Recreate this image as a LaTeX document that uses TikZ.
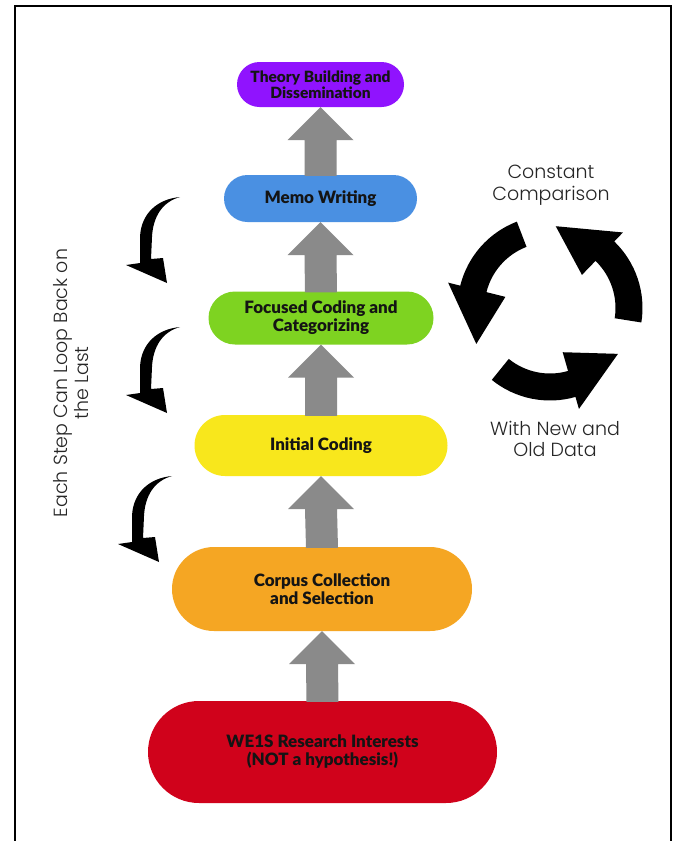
\documentclass[tikz,border=0pt]{standalone}
\usepackage{fontspec}
\setmainfont{Lato}
\newfontfamily\boxfont{Lato Black}
\newfontfamily\popfont{Poppins Light}
\usetikzlibrary{calc}
\definecolor{cpurple}{HTML}{9013FE}
\definecolor{cblue}{HTML}{4A90E2}
\definecolor{cgreen}{HTML}{7ED321}
\definecolor{cyellow}{HTML}{F8E71C}
\definecolor{corange}{HTML}{F5A623}
\definecolor{cred}{HTML}{D0021B}
\definecolor{cgray}{HTML}{8A8A8A}
\definecolor{ctext}{HTML}{141414}
\tikzset{
  stagebox/.style={rounded corners=#1, inner sep=0pt, align=center, font=\boxfont\fontsize{17}{18}\selectfont, text=ctext},
  sidetext/.style={font=\popfont\fontsize{19}{21.5}\selectfont, text=black!85, align=center, inner sep=0pt},
  swoosh/.pic={
    \fill[black] (0,0) .. controls (-22,2) and (-39,16) .. (-40,40) -- (-40,66) -- (-54,68) -- (-13,86) -- (-17,61) -- (-29,62) -- (-28,40) .. controls (-27,20) and (-18,5) .. (0,0) -- cycle;
  }
}
\newcommand\grayup[2]{%
  \fill[cgray] ($(#1.north)+(-16,1)$) -- ($(#2.south)+(-16,33)$) -- ($(#2.south)+(-33,33)$) -- (#2.south) -- ($(#2.south)+(33,33)$) -- ($(#2.south)+(16,33)$) -- ($(#1.north)+(16,1)$) -- cycle;}
\newcommand\cycarrow[1]{%
  \fill[black] (#1:92.5) arc[start angle=#1, end angle=#1+55, radius=92.5] -- (#1+55:105) -- (#1+95:82) -- (#1+55:46) -- (#1+55:65.5) arc[start angle=#1+55, end angle=#1, radius=65.5] -- cycle;}
\begin{document}
\begin{tikzpicture}[x=1pt,y=-1pt]
\useasboundingbox (0,0) rectangle (675,841);
\fill[white] (0,0) rectangle (675,841);
\draw[line width=2pt] (15,845) -- (15,6) -- (671,6) -- (671,845);

\node[stagebox=22.5pt, fill=cpurple, minimum width=167pt, minimum height=45pt, font=\boxfont\fontsize{15.5}{16}\selectfont] (theory) at (320.5,84.5) {Theory Building and\\Dissemination};
\node[stagebox=23.5pt, fill=cblue, minimum width=193pt, minimum height=47pt] (memo) at (320.5,198.5) {Memo Writing};
\node[stagebox=26.5pt, fill=cgreen, minimum width=225pt, minimum height=53pt] (focused) at (321,318) {Focused Coding and\\Categorizing};
\node[stagebox=30.5pt, fill=cyellow, minimum width=253pt, minimum height=61pt] (initial) at (321,445.5) {Initial Coding};
\node[stagebox=42pt, fill=corange, minimum width=300pt, minimum height=84pt] (corpus) at (322,589) {Corpus Collection\\and Selection};
\node[stagebox=51pt, fill=cred, minimum width=349pt, minimum height=102pt] (interests) at (322.5,752) {WE1S Research Interests\\(NOT a hypothesis!)};

\grayup{memo}{theory}
\grayup{focused}{memo}
\grayup{initial}{focused}
\grayup{corpus}{initial}
\grayup{interests}{corpus}

\pic at (180,197) {swoosh};
\pic at (180,327) {swoosh};
\pic at (172,476) {swoosh};

\node[sidetext, rotate=90] (loop) at (71,383) {Each Step Can Loop Back on\\the Last};
\node[sidetext] (constant) at (551,185) {Constant\\Comparison};
\node[sidetext] (newold) at (555,439) {With New and\\Old Data};

\begin{scope}[shift={(550,308)}, y=1pt]
  \cycarrow{111}
  \cycarrow{231}
  \cycarrow{351}
\end{scope}
\end{tikzpicture}
\end{document}
